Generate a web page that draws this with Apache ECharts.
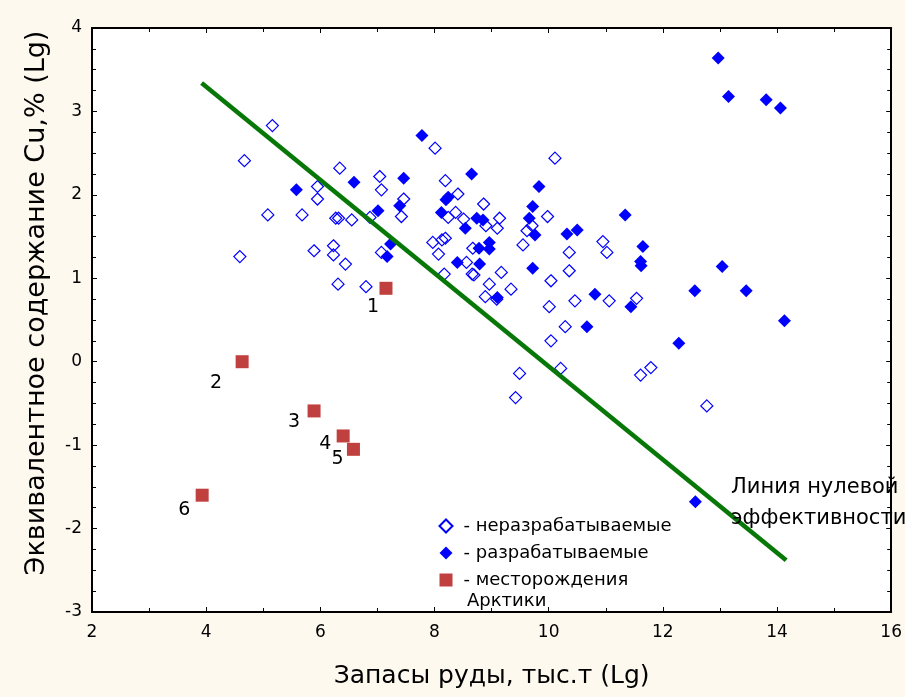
<!DOCTYPE html>
<html>
<head>
<meta charset="utf-8">
<script src="https://cdn.jsdelivr.net/npm/echarts@6/dist/echarts.min.js"></script>
<style>
  html, body { margin: 0; padding: 0; background: #fdf9ef; }
  #chart { width: 905px; height: 697px; }
</style>
</head>
<body>
<div id="chart"></div>
<script>
// ---- Data ----
const seriesNames = ['неразрабатываемые', 'разрабатываемые', 'месторождения'];

const unworkedX = [5.16, 4.67, 6.34, 7.04, 5.95, 7.07, 5.95, 7.46, 5.08, 5.68,
  6.27, 6.32, 6.55, 6.87, 7.42, 7.97, 5.89, 6.23, 6.23, 7.07,
  4.59, 6.44, 6.31, 6.80, 8.07, 8.01, 10.11, 8.19, 8.41, 8.86,
  8.37, 8.24, 8.51, 9.14, 8.90, 9.10, 9.98, 9.71, 9.62, 8.13,
  8.19, 8.67, 9.55, 10.36, 10.95, 11.02, 8.17, 8.56, 8.66, 8.69,
  9.17, 10.36, 10.04, 8.96, 9.34, 8.89, 9.09, 10.46, 11.06, 11.54,
  10.01, 10.29, 10.04, 10.21, 9.49, 9.42, 11.61, 11.79, 12.77];
const unworkedY = [2.83, 2.41, 2.32, 2.22, 2.10, 2.06, 1.95, 1.95, 1.76, 1.76,
  1.72, 1.72, 1.70, 1.73, 1.74, 1.43, 1.33, 1.39, 1.28, 1.31,
  1.26, 1.17, 0.93, 0.90, 1.29, 2.56, 2.44, 2.17, 2.01, 1.89,
  1.79, 1.73, 1.71, 1.72, 1.63, 1.60, 1.74, 1.63, 1.57, 1.46,
  1.48, 1.36, 1.40, 1.31, 1.44, 1.31, 1.05, 1.19, 1.05, 1.04,
  1.07, 1.09, 0.97, 0.93, 0.87, 0.78, 0.75, 0.73, 0.73, 0.76,
  0.66, 0.42, 0.25, -0.08, -0.14, -0.43, -0.16, -0.07, -0.53];

const workedX = [7.78, 6.59, 7.46, 5.58, 7.01, 7.39, 7.23, 7.17, 8.65, 9.83,
  8.24, 8.20, 8.12, 9.72, 8.74, 8.85, 9.66, 8.54, 9.76, 10.32,
  10.50, 11.34, 8.96, 8.78, 8.96, 8.40, 8.79, 9.72, 9.10, 10.81,
  11.44, 10.67, 11.65, 11.61, 11.62, 13.04, 12.56, 13.46, 14.13, 12.28,
  12.97, 13.15, 13.81, 14.06, 12.57];
const workedY = [2.71, 2.15, 2.20, 2.06, 1.81, 1.87, 1.41, 1.26, 2.25, 2.10,
  1.97, 1.94, 1.79, 1.86, 1.72, 1.70, 1.72, 1.60, 1.52, 1.53,
  1.58, 1.76, 1.43, 1.36, 1.35, 1.19, 1.17, 1.12, 0.77, 0.81,
  0.66, 0.42, 1.38, 1.20, 1.15, 1.14, 0.85, 0.85, 0.49, 0.22,
  3.64, 3.18, 3.14, 3.04, -1.68];

const arcticX = [7.15, 4.63, 5.89, 6.40, 6.58, 3.93];
const arcticY = [0.88, 0.00, -0.59, -0.89, -1.05, -1.60];
const arcticLabels = ['1', '2', '3', '4', '5', '6'];

const zeroLineX = [3.92, 14.16];
const zeroLineY = [3.34, -2.38];

const xTicks = { min: 2, max: 16, interval: 2 };
const yTicks = { min: -3, max: 4, interval: 1 };

const xTitle = 'Запасы руды, тыс.т (Lg)';
const yTitle = 'Эквивалентное содержание Cu,% (Lg)';
const lineCaption = ['Линия нулевой', 'эффективности'];
const legendExtra = 'Арктики';

// ---- Styles / layout ----
const FONT = '"DejaVu Sans", "Liberation Sans", Arial, sans-serif';
const labelOffsets = [[-13, 19], [-26, 21], [-20, 11], [-18, 8], [-16, 10], [-18, 15]];

const zip = (xs, ys) => xs.map((x, i) => [x, ys[i]]);

const axisCommon = {
  axisLine: { show: true, onZero: false, lineStyle: { color: '#000', width: 2 } },
  axisTick: { show: true, inside: true, length: 5, lineStyle: { color: '#000', width: 1 } },
  minorTick: { show: true, length: 4, lineStyle: { color: '#000', width: 1 } },
  splitLine: { show: false },
  minorSplitLine: { show: false }
};

const chart = echarts.init(document.getElementById('chart'), null, { renderer: 'canvas' });

const option = {
  backgroundColor: '#fdf9ef',
  animation: false,
  grid: { left: 92, top: 28, right: 12, bottom: 85, show: true, backgroundColor: '#ffffff', borderWidth: 0 },
  xAxis: [
    Object.assign({
      type: 'value', position: 'bottom', min: xTicks.min, max: xTicks.max, interval: xTicks.interval,
      axisLabel: { show: true, margin: 12, color: '#000', fontSize: 17, fontFamily: FONT },
      name: xTitle, nameLocation: 'middle', nameGap: 52,
      nameTextStyle: { color: '#000', fontSize: 25, fontFamily: FONT }
    }, axisCommon, { minorTick: Object.assign({ splitNumber: 2 }, axisCommon.minorTick) }),
    Object.assign({
      type: 'value', position: 'top', min: xTicks.min, max: xTicks.max, interval: xTicks.interval,
      axisLabel: { show: false }
    }, axisCommon, { minorTick: Object.assign({ splitNumber: 2 }, axisCommon.minorTick) })
  ],
  yAxis: [
    Object.assign({
      type: 'value', position: 'left', min: yTicks.min, max: yTicks.max, interval: yTicks.interval,
      axisLabel: { show: true, margin: 10, color: '#000', fontSize: 17, fontFamily: FONT }
    }, axisCommon, { minorTick: Object.assign({ splitNumber: 4 }, axisCommon.minorTick) }),
    Object.assign({
      type: 'value', position: 'right', min: yTicks.min, max: yTicks.max, interval: yTicks.interval,
      axisLabel: { show: false }
    }, axisCommon, { minorTick: Object.assign({ splitNumber: 4 }, axisCommon.minorTick) })
  ],
  legend: {
    show: true,
    orient: 'vertical',
    left: 433.5,
    top: 511,
    itemWidth: 13,
    itemHeight: 13,
    itemGap: 7,
    data: seriesNames,
    formatter: (n) => '- ' + n,
    textStyle: { color: '#000', fontSize: 18, fontFamily: FONT, lineHeight: 20, padding: [0, 0, 0, 6] },
    selectedMode: false
  },
  graphic: [
    {
      type: 'text', x: 467, y: 601,
      style: { text: legendExtra, font: '18px ' + FONT, fill: '#000', textVerticalAlign: 'middle', verticalAlign: 'middle' }
    },
    {
      type: 'text', x: 731, y: 488, z: 100,
      style: { text: lineCaption[0], font: '21px ' + FONT, fill: '#000', textVerticalAlign: 'middle', verticalAlign: 'middle' }
    },
    {
      type: 'text', x: 731, y: 519, z: 100,
      style: { text: lineCaption[1], font: '21px ' + FONT, fill: '#000', textVerticalAlign: 'middle', verticalAlign: 'middle' }
    },
    {
      type: 'text', x: 37, y: 303, rotation: Math.PI / 2,
      style: { text: yTitle, font: '27px ' + FONT, fill: '#000', textAlign: 'center', align: 'center', textVerticalAlign: 'middle', verticalAlign: 'middle' }
    }
  ],
  series: [
    {
      name: seriesNames[0],
      type: 'scatter',
      symbol: 'diamond',
      symbolSize: 12,
      data: zip(unworkedX, unworkedY),
      itemStyle: { color: 'rgba(255,255,255,0)', borderColor: '#0000ff', borderWidth: 1.2, opacity: 1 },
      z: 3
    },
    {
      name: seriesNames[1],
      type: 'scatter',
      symbol: 'diamond',
      symbolSize: 13,
      data: zip(workedX, workedY),
      itemStyle: { color: '#0000ff', opacity: 1 },
      z: 4
    },
    {
      name: 'zero-line',
      type: 'line',
      data: zip(zeroLineX, zeroLineY),
      symbol: 'none',
      silent: true,
      lineStyle: { color: '#077807', width: 4.5 },
      z: 5
    },
    {
      name: seriesNames[2],
      type: 'scatter',
      symbol: 'rect',
      symbolSize: 13,
      data: zip(arcticX, arcticY).map((p, i) => ({
        value: p,
        label: {
          show: true,
          formatter: arcticLabels[i],
          position: 'inside',
          offset: labelOffsets[i],
          color: '#000',
          fontSize: 19,
          fontFamily: FONT
        }
      })),
      itemStyle: { color: '#c0403f', opacity: 1 },
      z: 6
    }
  ]
};

chart.setOption(option);
</script>
</body>
</html>
